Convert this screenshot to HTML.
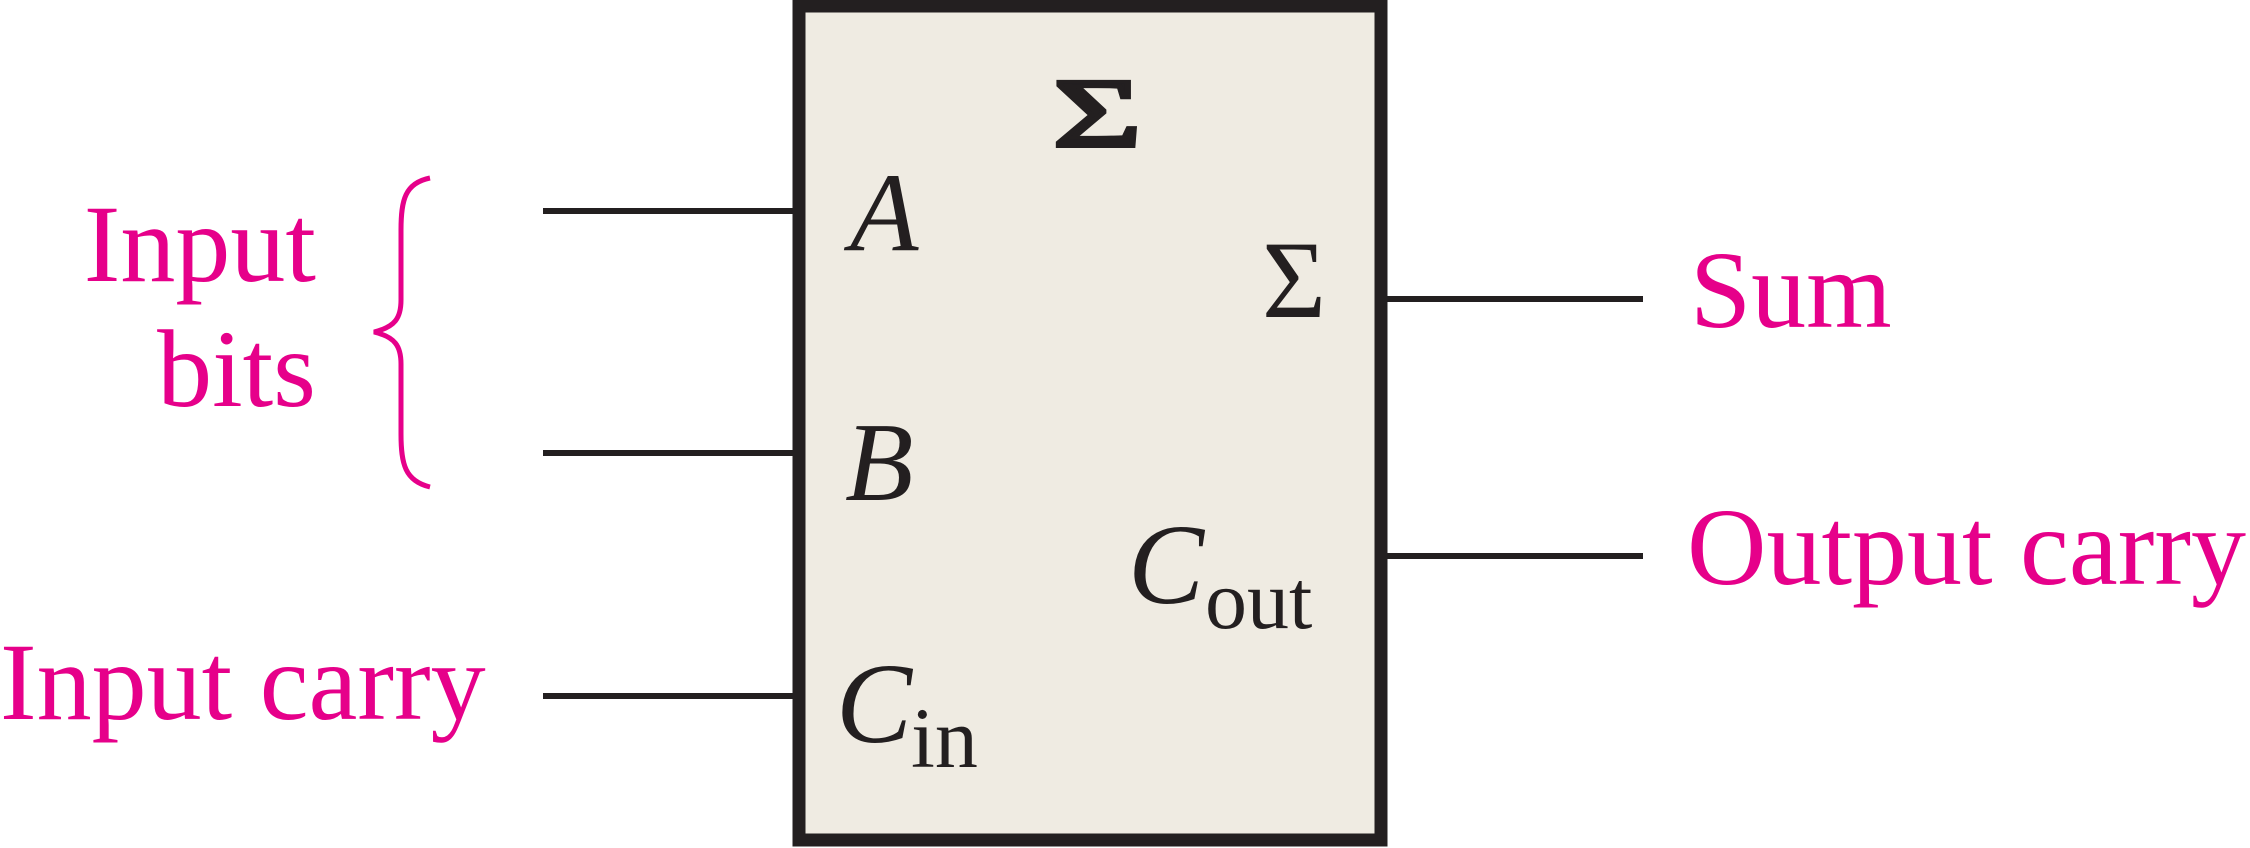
<!DOCTYPE html>
<html><head><meta charset="utf-8"><style>
html,body{margin:0;padding:0;background:#fff;}
svg{display:block;}
text{font-family:"Liberation Serif",serif;}
.m{fill:#e6008a;font-size:110px;}
.k{fill:#231f20;}
</style></head><body>
<svg width="2250" height="848" viewBox="0 0 2250 848" xmlns="http://www.w3.org/2000/svg">
<rect x="799" y="6" width="582" height="834" fill="#efebe2" stroke="#231f20" stroke-width="13"/>
<g stroke="#231f20" stroke-width="6">
<line x1="543" y1="211" x2="795" y2="211"/>
<line x1="543" y1="453" x2="795" y2="453"/>
<line x1="543" y1="696" x2="795" y2="696"/>
<line x1="1385" y1="299" x2="1643" y2="299"/>
<line x1="1385" y1="556" x2="1643" y2="556"/>
</g>
<path d="M430,178 C405,183 401,200 401,230 L401,300 C401,318 395,327 374,332 C395,337 401,346 401,364 L401,434 C401,464 405,481 430,487" fill="none" stroke="#e6008a" stroke-width="5"/>
<text class="m" x="316" y="281" text-anchor="end">Input</text>
<text class="m" x="316" y="406" text-anchor="end">bits</text>
<text class="m" x="0" y="719">Input carry</text>
<text class="m" x="1690" y="327">Sum</text>
<text class="m" x="1687" y="584">Output carry</text>
<text class="k" font-size="98" stroke="#231f20" stroke-width="4" transform="translate(1053,146) scale(1.55,1)">Σ</text>
<text class="k" x="850" y="250" font-size="112" font-style="italic">A</text>
<text class="k" x="845" y="500" font-size="112" font-style="italic">B</text>
<text class="k" x="836" y="742" font-size="114" font-style="italic">C</text>
<text class="k" x="911" y="767" font-size="86">in</text>
<text class="k" x="1262" y="317" font-size="110">Σ</text>
<text class="k" x="1128" y="603" font-size="114" font-style="italic">C</text>
<text class="k" x="1205" y="628" font-size="84">out</text>
</svg>
</body></html>
